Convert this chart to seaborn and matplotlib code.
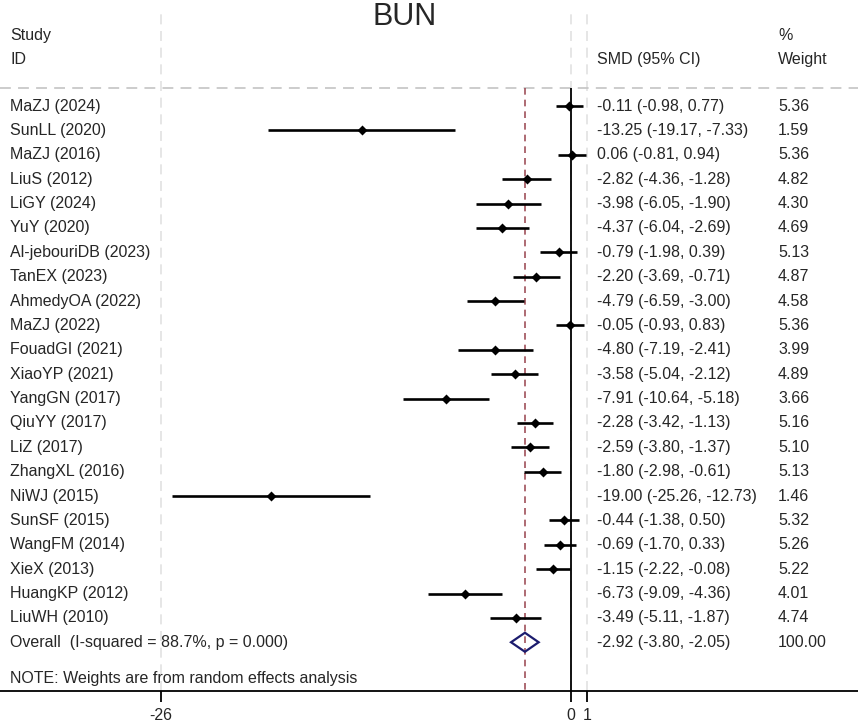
import numpy as np
import pandas as pd
import seaborn as sns
import matplotlib.pyplot as plt
from matplotlib.patches import Polygon

studies = ["MaZJ (2024)", "SunLL (2020)", "MaZJ (2016)", "LiuS (2012)", "LiGY (2024)",
           "YuY (2020)", "Al-jebouriDB (2023)", "TanEX (2023)", "AhmedyOA (2022)",
           "MaZJ (2022)", "FouadGI (2021)", "XiaoYP (2021)", "YangGN (2017)",
           "QiuYY (2017)", "LiZ (2017)", "ZhangXL (2016)", "NiWJ (2015)",
           "SunSF (2015)", "WangFM (2014)", "XieX (2013)", "HuangKP (2012)",
           "LiuWH (2010)"]
smd = [-0.11, -13.25, 0.06, -2.82, -3.98, -4.37, -0.79, -2.20, -4.79, -0.05, -4.80,
       -3.58, -7.91, -2.28, -2.59, -1.80, -19.00, -0.44, -0.69, -1.15, -6.73, -3.49]
lower = [-0.98, -19.17, -0.81, -4.36, -6.05, -6.04, -1.98, -3.69, -6.59, -0.93, -7.19,
         -5.04, -10.64, -3.42, -3.80, -2.98, -25.26, -1.38, -1.70, -2.22, -9.09, -5.11]
upper = [0.77, -7.33, 0.94, -1.28, -1.90, -2.69, 0.39, -0.71, -3.00, 0.83, -2.41,
         -2.12, -5.18, -1.13, -1.37, -0.61, -12.73, 0.50, 0.33, -0.08, -4.36, -1.87]
weight = [5.36, 1.59, 5.36, 4.82, 4.30, 4.69, 5.13, 4.87, 4.58, 5.36, 3.99, 4.89, 3.66,
          5.16, 5.10, 5.13, 1.46, 5.32, 5.26, 5.22, 4.01, 4.74]
overall_label = "Overall  (I-squared = 88.7%, p = 0.000)"
overall = [-2.92, -3.80, -2.05, 100.00]
xticks = [-26, 0, 1]

df = pd.DataFrame({"study": studies, "smd": smd, "lo": lower, "hi": upper, "w": weight})
df["row"] = np.arange(len(df))
n = len(df)

sns.set_theme(style="white")
plt.rcParams["font.family"] = ["Liberation Sans", "DejaVu Sans"]
fs = 11.5

fig = plt.figure(figsize=(8.58, 7.22), dpi=100)
ax = fig.add_axes([0, 31 / 722, 1, 691 / 722])
ax.set_xlim(-571 / 15.78, (858 - 571) / 15.78)
ax.set_ylim(24.0, -4.35)

# faint guide lines at the tick positions
for xv in xticks:
    ax.axvline(xv, ymin=0, ymax=0.985, color="#e2e2e2", lw=1.2, ls=(0, (6, 4)), zorder=0)
ax.axhline(-0.74, color="#c8c8c8", lw=1.3, ls=(0, (6, 4)), zorder=1)

ax.vlines(0, -0.74, 24.0, color="black", lw=1.3, zorder=2)
ax.vlines(overall[0], -0.74, 24.0, color="#a0505a", lw=1.2, ls=(0, (4, 3)), zorder=2)

ax.hlines(df["row"], df["lo"], df["hi"], color="black", lw=1.9, zorder=3)
sns.scatterplot(data=df, x="smd", y="row", marker="D", color="black", s=26,
                edgecolor="black", linewidth=0, ax=ax, zorder=4, legend=False)

yo = n
dh = 0.39
diamond = Polygon([(overall[1], yo), (overall[0], yo - dh), (overall[2], yo), (overall[0], yo + dh)],
                  closed=True, fill=False, edgecolor="#1c1c6e", lw=1.6, zorder=5)
ax.add_patch(diamond)

tr = ax.get_yaxis_transform()
ax.text(405 / 858, -3.32, "BUN", transform=tr, ha="center", va="baseline", fontsize=22)
ax.text(10 / 858, -2.91, "Study", transform=tr, va="center", fontsize=fs)
ax.text(10 / 858, -1.89, "ID", transform=tr, va="center", fontsize=fs)
ax.text(778 / 858, -2.91, "%", transform=tr, va="center", fontsize=fs)
ax.text(778 / 858, -1.89, "Weight", transform=tr, va="center", fontsize=fs)
ax.text(597 / 858, -1.89, "SMD (95% CI)", transform=tr, va="center", fontsize=fs)

for r in df.itertuples():
    ax.text(10 / 858, r.row, r.study, transform=tr, va="center", fontsize=fs)
    ax.text(597 / 858, r.row, f"{r.smd:.2f} ({r.lo:.2f}, {r.hi:.2f})", transform=tr,
            va="center", fontsize=fs)
    ax.text(778 / 858, r.row, f"{r.w:.2f}", transform=tr, va="center", fontsize=fs)

ax.text(10 / 858, yo, overall_label, transform=tr, va="center", fontsize=fs)
ax.text(597 / 858, yo, f"{overall[0]:.2f} ({overall[1]:.2f}, {overall[2]:.2f})",
        transform=tr, va="center", fontsize=fs)
ax.text(778 / 858, yo, f"{overall[3]:.2f}", transform=tr, va="center", fontsize=fs)
ax.text(10 / 858, n + 1.5, "NOTE: Weights are from random effects analysis", transform=tr,
        va="center", fontsize=fs)

ax.set_xticks(xticks)
ax.set_xticklabels([str(t) for t in xticks], fontsize=fs)
ax.set_yticks([])
ax.tick_params(axis="x", direction="out", length=8, width=1.3, color="black", pad=4,
               bottom=True)
for s in ("top", "left", "right"):
    ax.spines[s].set_visible(False)
ax.spines["bottom"].set_color("black")
ax.spines["bottom"].set_linewidth(1.3)
ax.set_xlabel("")
ax.set_ylabel("")
ax.grid(False)

fig.savefig("out.png", dpi=100)
